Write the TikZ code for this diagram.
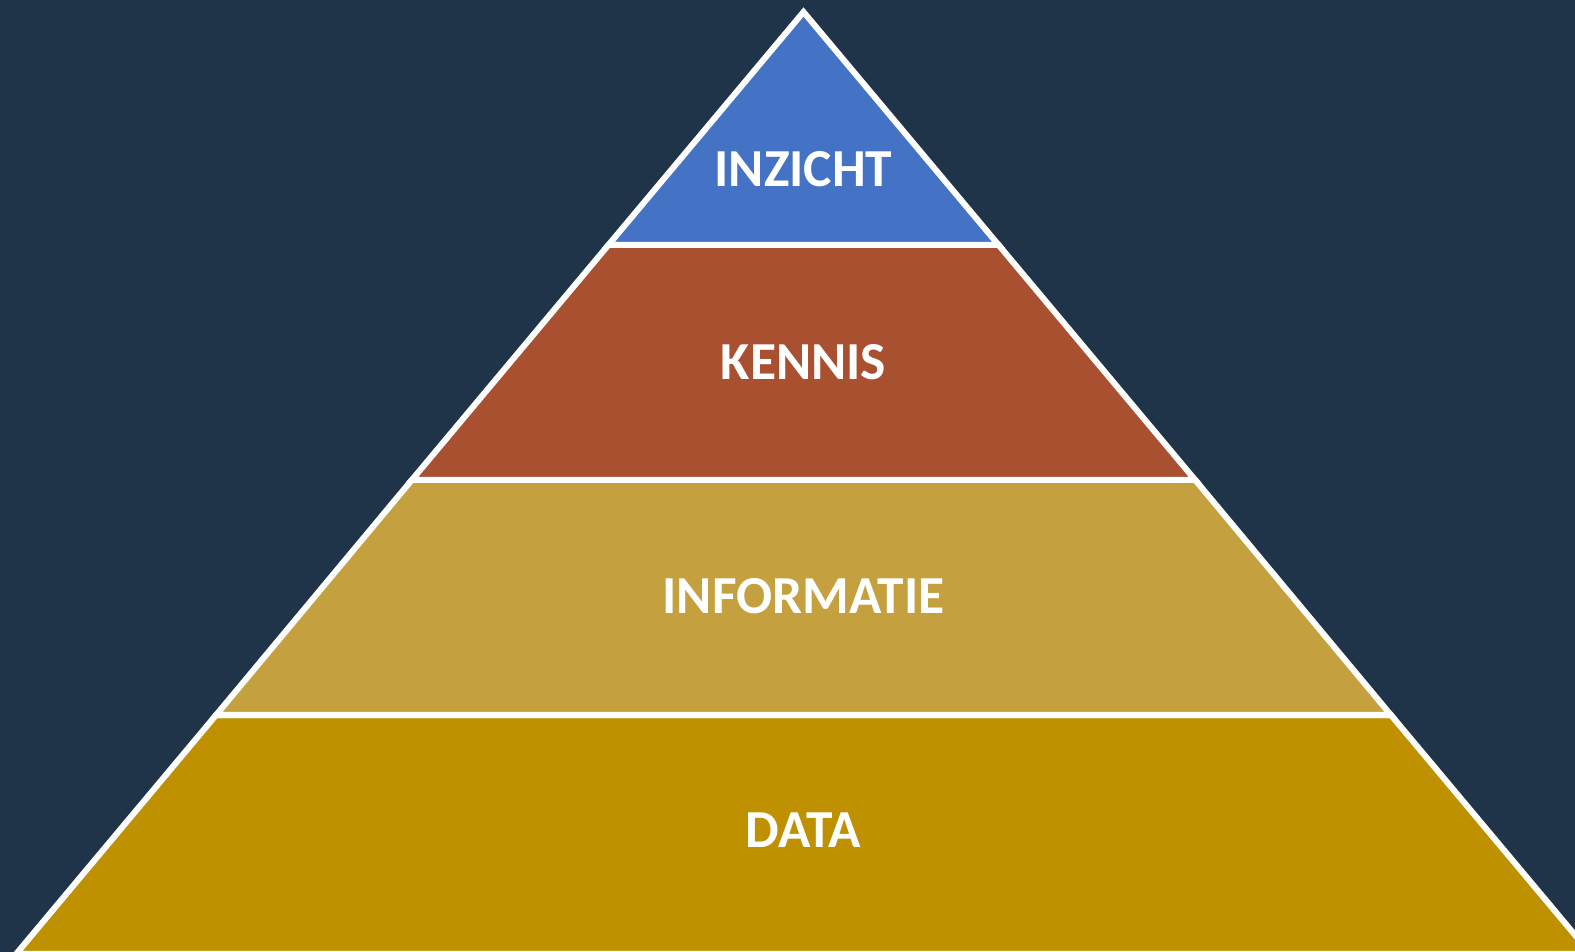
\documentclass[tikz,border=0pt]{standalone}
\usepackage{fontspec}
\setmainfont{Carlito}
\definecolor{bgc}{RGB}{32,52,73}
\definecolor{c1}{RGB}{68,114,196}
\definecolor{c2}{RGB}{169,80,48}
\definecolor{c3}{RGB}{196,160,62}
\definecolor{c4}{RGB}{191,144,0}
\begin{document}
\begin{tikzpicture}[x=0.01cm,y=-0.01cm,
  layer/.style={draw=white,line width=0.06cm,line join=miter},
  lbl/.style={text=white,font=\fontsize{15.2pt}{18pt}\selectfont\bfseries,inner sep=0pt}]
\useasboundingbox (0,0) rectangle (1575,952);
\clip (0,0) rectangle (1575,952);
\fill[bgc] (0,0) rectangle (1575,952);
\begin{scope}[xshift=0.035cm]
% slope: x = 800 -/+ 0.837*(y-12)
\path[layer,fill=c4] (212.6,715) -- (1387.4,715) -- (1587.4,954) -- (12.6,954) -- cycle;
\path[layer,fill=c3] (408.3,480) -- (1191.7,480) -- (1387.4,715) -- (212.6,715) -- cycle;
\path[layer,fill=c2] (604.9,245) -- (995.1,245) -- (1191.7,480) -- (408.3,480) -- cycle;
\path[layer,fill=c1] (800,12) -- (995.1,245) -- (604.9,245) -- cycle;
\node[lbl] (inzicht) at (800,169) {INZICHT};
\node[lbl] (kennis) at (800,362) {KENNIS};
\node[lbl] (informatie) at (800,596) {INFORMATIE};
\node[lbl] (data) at (800,830) {DATA};
\end{scope}
\end{tikzpicture}
\end{document}
